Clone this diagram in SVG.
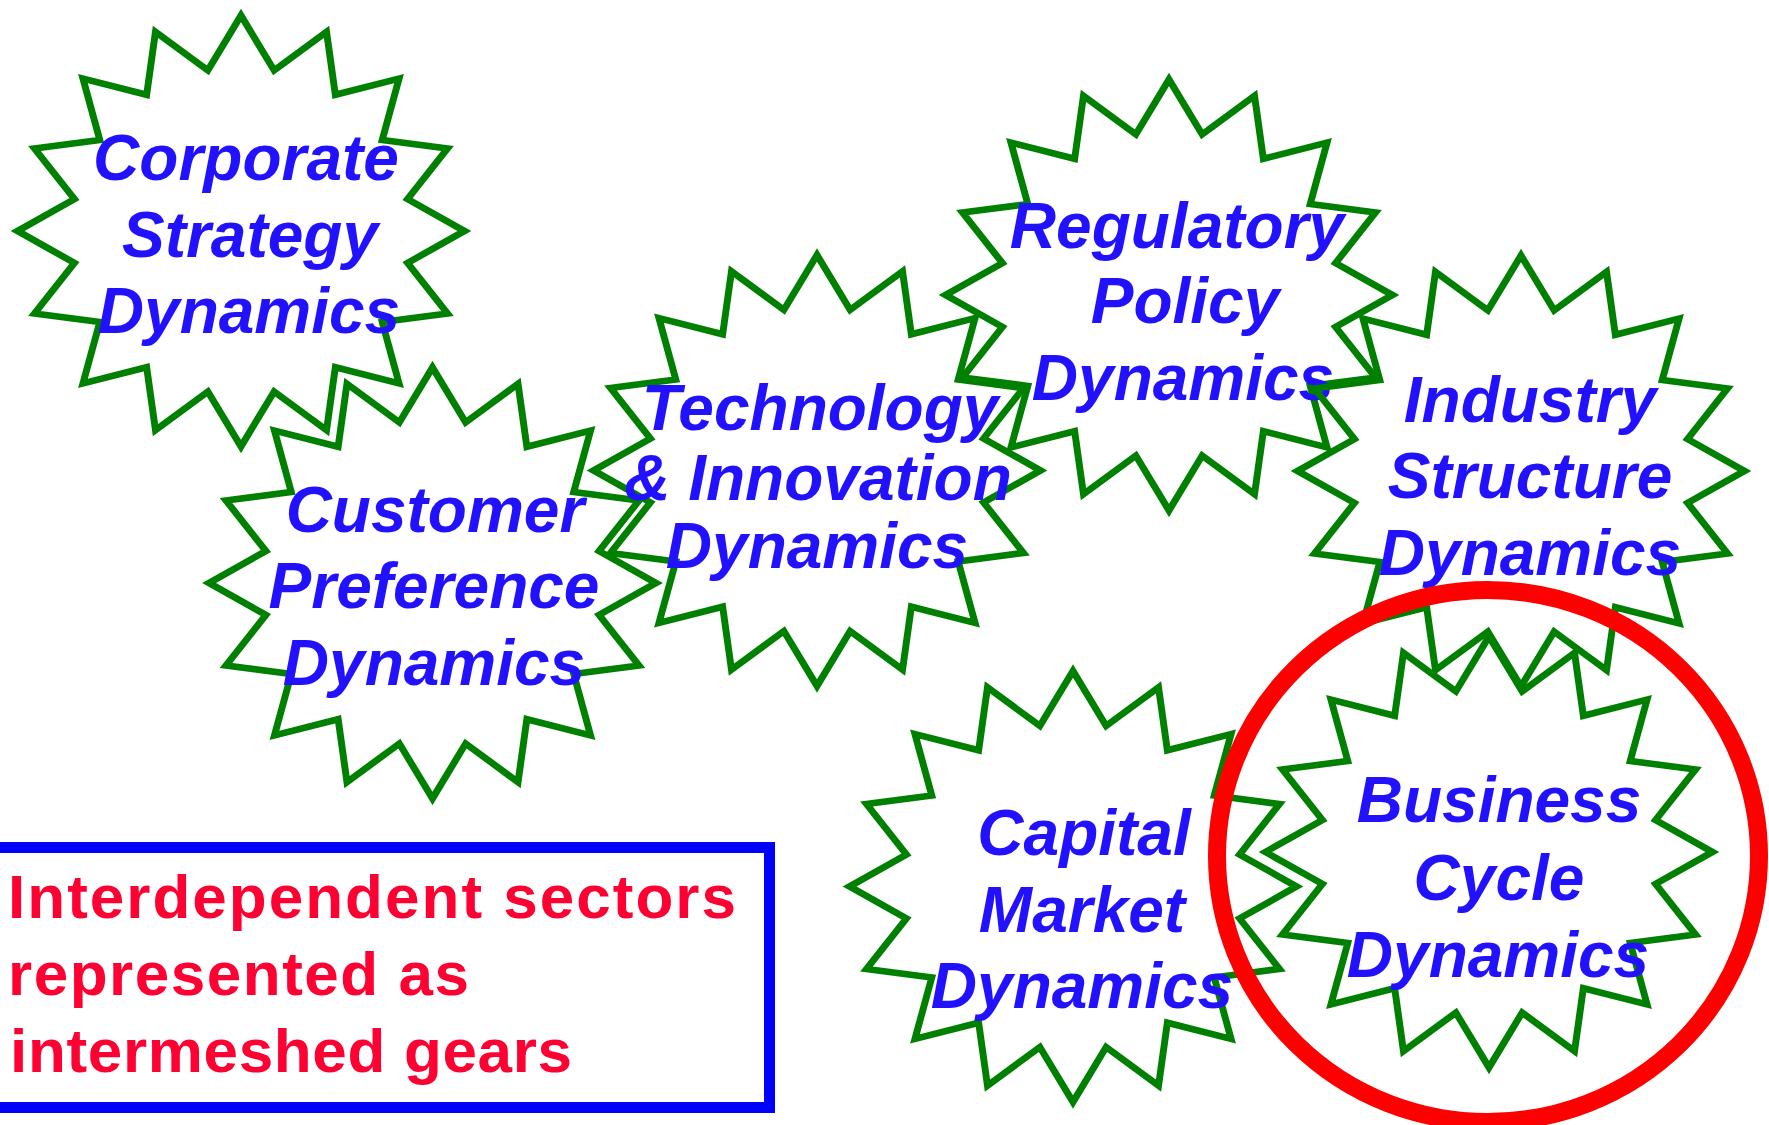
<svg xmlns="http://www.w3.org/2000/svg" xmlns:xlink="http://www.w3.org/1999/xlink" width="1769" height="1125" viewBox="0 0 1769 1125">
<style>
.star{fill:none;stroke:#008000;stroke-width:3.1;stroke-linejoin:miter}
.lbl{font-family:"Liberation Sans",Arial,sans-serif;font-weight:bold;font-style:italic;font-size:64px;fill:#2211FF;text-anchor:middle}
.note{font-family:"Comic Sans MS","Liberation Sans",sans-serif;font-weight:bold;font-size:62px;fill:#FF0033}
</style>
<defs>
<polygon id="star" points="0,-100 14.83,-74.54 38.27,-92.39 42.22,-63.19 70.71,-70.71 63.19,-42.22 92.39,-38.27 74.54,-14.83 100,0 74.54,14.83 92.39,38.27 63.19,42.22 70.71,70.71 42.22,63.19 38.27,92.39 14.83,74.54 0,100 -14.83,74.54 -38.27,92.39 -42.22,63.19 -70.71,70.71 -63.19,42.22 -92.39,38.27 -74.54,14.83 -100,0 -74.54,-14.83 -92.39,-38.27 -63.19,-42.22 -70.71,-70.71 -42.22,-63.19 -38.27,-92.39 -14.83,-74.54"/>
</defs>
<rect width="1769" height="1125" fill="#FFFFFF"/>
<g id="corporate">
<use xlink:href="#star" class="star" transform="translate(241,231) scale(2.235,2.155)"/>
<text class="lbl" x="246" y="180">Corporate</text>
<text class="lbl" x="250" y="257">Strategy</text>
<text class="lbl" x="249" y="333">Dynamics</text>
</g>
<g id="customer">
<use xlink:href="#star" class="star" transform="translate(432.5,583) scale(2.235,2.155)"/>
<text class="lbl" x="435" y="532">Customer</text>
<text class="lbl" x="434" y="608">Preference</text>
<text class="lbl" x="434" y="685">Dynamics</text>
</g>
<g id="technology">
<use xlink:href="#star" class="star" transform="translate(817,470.5) scale(2.235,2.155)"/>
<text class="lbl" x="820" y="430">Technology</text>
<text class="lbl" x="818" y="500">&amp; Innovation</text>
<text class="lbl" x="817" y="568">Dynamics</text>
</g>
<g id="regulatory">
<use xlink:href="#star" class="star" transform="translate(1169,295) scale(2.235,2.155)"/>
<text class="lbl" x="1177" y="248">Regulatory</text>
<text class="lbl" x="1185" y="323">Policy</text>
<text class="lbl" x="1183" y="400">Dynamics</text>
</g>
<g id="industry">
<use xlink:href="#star" class="star" transform="translate(1521,471) scale(2.235,2.155)"/>
<text class="lbl" x="1530" y="422">Industry</text>
<text class="lbl" x="1530" y="498">Structure</text>
<text class="lbl" x="1530" y="575">Dynamics</text>
</g>
<g id="capital">
<use xlink:href="#star" class="star" transform="translate(1073,886.5) scale(2.235,2.155)"/>
<text class="lbl" x="1084" y="855">Capital</text>
<text class="lbl" x="1082" y="932">Market</text>
<text class="lbl" x="1082" y="1008">Dynamics</text>
</g>
<g id="business">
<use xlink:href="#star" class="star" transform="translate(1489,852) scale(2.235,2.155)"/>
<text class="lbl" x="1499" y="822">Business</text>
<text class="lbl" x="1499" y="900">Cycle</text>
<text class="lbl" x="1498" y="977">Dynamics</text>
</g>
<g id="connectors"></g>
<g id="highlight">
<ellipse cx="1488" cy="856" rx="271" ry="266" fill="none" stroke="#FF0000" stroke-width="18"/>
</g>
<g id="legend">
<rect x="-10" y="847.5" width="779.5" height="260" fill="#FFFFFF" stroke="#0000FF" stroke-width="11"/>
<text class="note" x="8" y="918" textLength="728" lengthAdjust="spacing">Interdependent sectors</text>
<text class="note" x="8" y="995" textLength="461" lengthAdjust="spacing">represented as</text>
<text class="note" x="10" y="1072" textLength="562" lengthAdjust="spacing">intermeshed gears</text>
</g>
</svg>
